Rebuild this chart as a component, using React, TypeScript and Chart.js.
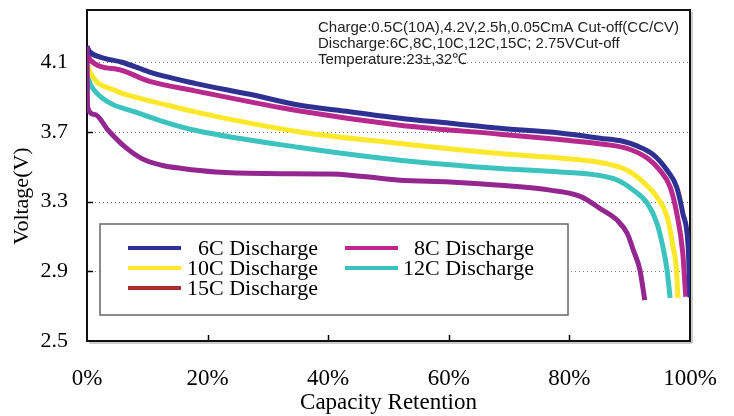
import React, { useEffect, useRef } from "react";
import { Chart, registerables } from "chart.js";

Chart.register(...registerables);

const SERIES_NAMES = ["6C Discharge", "8C Discharge", "10C Discharge", "12C Discharge", "15C Discharge"];
const LINE_COLORS = ["#2E3192", "#B8298D", "#FCE82A", "#3CC3BE", "#93278F"];
const LEGEND_COLORS = ["#2E3192", "#B8298D", "#FCE82A", "#3CC3BE", "#A8302F"];

const C6_X = [0, 0.5, 2.2, 5.8, 10.4, 17.9, 27.0, 35.3, 43.6, 51.9, 60.2, 68.5, 78.4, 85.1, 89.0, 91.2, 93.9, 96.2, 97.8, 98.8, 99.7, 99.9, 100];
const C6_V = [4.19, 4.159, 4.13, 4.10, 4.044, 3.979, 3.916, 3.853, 3.816, 3.779, 3.75, 3.721, 3.694, 3.664, 3.645, 3.62, 3.57, 3.48, 3.383, 3.234, 3.039, 2.85, 2.75];

const C8_X = [0, 0.5, 5.0, 10.4, 17.9, 35.3, 51.9, 68.5, 78.4, 86.0, 89.6, 92.9, 95.0, 96.7, 97.8, 98.8, 99.3];
const C8_V = [4.19, 4.115, 4.06, 3.99, 3.936, 3.82, 3.739, 3.687, 3.656, 3.628, 3.605, 3.55, 3.48, 3.385, 3.234, 3.005, 2.754];

const C10_X = [0, 0.5, 4.6, 9.0, 13.4, 17.9, 35.3, 51.9, 68.5, 78.4, 85.1, 89.6, 92.2, 94.5, 96.2, 97.2, 97.8, 98.0];
const C10_V = [4.10, 4.044, 3.939, 3.891, 3.853, 3.815, 3.70, 3.634, 3.576, 3.55, 3.525, 3.48, 3.413, 3.327, 3.213, 3.041, 2.89, 2.747];

const C12_X = [0, 0.8, 3.5, 8.0, 12.9, 17.9, 35.3, 51.9, 68.5, 78.4, 84.0, 88.0, 90.6, 92.9, 94.5, 95.5, 96.2, 96.7];
const C12_V = [4.02, 3.958, 3.872, 3.815, 3.757, 3.71, 3.611, 3.538, 3.49, 3.47, 3.455, 3.423, 3.366, 3.291, 3.177, 3.041, 2.907, 2.747];

const C15_X = [0, 0.1, 1.3, 3.5, 6.3, 9.1, 12.4, 15.8, 21.4, 29.3, 40.1, 43.6, 51.9, 60.2, 68.5, 76.8, 81.8, 85.1, 87.9, 89.6, 90.6, 91.7, 92.5];
const C15_V = [4.19, 3.84, 3.8, 3.71, 3.614, 3.547, 3.509, 3.49, 3.47, 3.461, 3.458, 3.452, 3.423, 3.413, 3.394, 3.366, 3.33, 3.26, 3.194, 3.117, 3.022, 2.907, 2.735];

const SERIES_X = [C6_X, C8_X, C10_X, C12_X, C15_X];
const SERIES_V = [C6_V, C8_V, C10_V, C12_V, C15_V];

const Y_TICKS = [2.5, 2.9, 3.3, 3.7, 4.1];
const X_TICKS = [0, 20, 40, 60, 80, 100];

const X_TITLE = "Capacity Retention";
const Y_TITLE = "Voltage(V)";

const NOTE_LINES = [
  "Charge:0.5C(10A),4.2V,2.5h,0.05CmA Cut-off(CC/CV)",
  "Discharge:6C,8C,10C,12C,15C; 2.75VCut-off",
  "Temperature:23±,32℃",
];

const SERIF = "'Liberation Serif', 'Times New Roman', serif";
const SANS = "'Liberation Sans', Arial, sans-serif";

const decorPlugin = {
  id: "decor",
  beforeDatasetsDraw(chart: any) {
    const { ctx, chartArea: a, scales } = chart;
    const xs = scales.x;
    const ys = scales.y;
    ctx.save();
    // dotted grid lines
    ctx.strokeStyle = "#777";
    ctx.lineWidth = 1;
    ctx.setLineDash([1, 3]);
    Y_TICKS.forEach((v) => {
      if (v === ys.min) return;
      const py = Math.round(ys.getPixelForValue(v)) + 0.5;
      ctx.beginPath();
      ctx.moveTo(a.left, py);
      ctx.lineTo(a.right, py);
      ctx.stroke();
    });
    ctx.setLineDash([]);
    // inward tick marks
    ctx.strokeStyle = "#000";
    ctx.lineWidth = 1.5;
    X_TICKS.forEach((v) => {
      if (v === xs.min || v === xs.max) return;
      const px = Math.round(xs.getPixelForValue(v)) + 0.5;
      ctx.beginPath();
      ctx.moveTo(px, a.bottom);
      ctx.lineTo(px, a.bottom - 6);
      ctx.stroke();
    });
    Y_TICKS.forEach((v) => {
      if (v === ys.min) return;
      const py = Math.round(ys.getPixelForValue(v)) + 0.5;
      ctx.beginPath();
      ctx.moveTo(a.left, py);
      ctx.lineTo(a.left + 6, py);
      ctx.stroke();
    });
    // frame with light shadow
    ctx.strokeStyle = "#9a9a9a";
    ctx.lineWidth = 1;
    ctx.beginPath();
    ctx.moveTo(a.right + 2, a.top + 2);
    ctx.lineTo(a.right + 2, a.bottom + 2);
    ctx.lineTo(a.left + 2, a.bottom + 2);
    ctx.stroke();
    ctx.strokeStyle = "#111";
    ctx.lineWidth = 2;
    ctx.strokeRect(a.left, a.top, a.right - a.left, a.bottom - a.top);
    ctx.restore();
  },
  afterDatasetsDraw(chart: any) {
    const { ctx, chartArea: a } = chart;
    ctx.save();
    // y axis title
    ctx.save();
    ctx.translate(22, a.top + 186);
    ctx.rotate(-Math.PI / 2);
    ctx.font = `22px ${SERIF}`;
    ctx.fillStyle = "#000";
    ctx.textAlign = "center";
    ctx.textBaseline = "middle";
    ctx.fillText(Y_TITLE, 0, 0);
    ctx.restore();
    // note text
    ctx.fillStyle = "#222";
    ctx.font = `15px ${SANS}`;
    ctx.textAlign = "left";
    ctx.textBaseline = "middle";
    NOTE_LINES.forEach((t, i) => {
      ctx.fillText(t, a.left + 231, a.top + 18 + i * 16);
    });
    // legend box
    const bx = a.left + 13;
    const by = a.top + 214;
    const bw = 468;
    const bh = 91;
    ctx.fillStyle = "#fff";
    ctx.fillRect(bx, by, bw, bh);
    ctx.strokeStyle = "#666";
    ctx.lineWidth = 1.5;
    ctx.strokeRect(bx, by, bw, bh);
    ctx.font = `22px ${SERIF}`;
    ctx.fillStyle = "#000";
    ctx.textAlign = "right";
    ctx.textBaseline = "middle";
    const cols = [
      { lx: bx + 28, tx: bx + 218 },
      { lx: bx + 245, tx: bx + 434 },
    ];
    SERIES_NAMES.forEach((name, i) => {
      const c = cols[i % 2];
      const ry = by + 24 + Math.floor(i / 2) * 20;
      ctx.strokeStyle = LEGEND_COLORS[i];
      ctx.lineWidth = 4;
      ctx.beginPath();
      ctx.moveTo(c.lx, ry);
      ctx.lineTo(c.lx + 53, ry);
      ctx.stroke();
      ctx.fillText(name, c.tx, ry + 1);
    });
    ctx.restore();
  },
};

export default function App() {
  const ref = useRef<HTMLCanvasElement | null>(null);

  useEffect(() => {
    if (!ref.current) return;
    const datasets = SERIES_NAMES.map((name, i) => ({
      label: name,
      data: SERIES_X[i].map((x, j) => ({ x, y: SERIES_V[i][j] })),
      borderColor: LINE_COLORS[i],
      backgroundColor: LINE_COLORS[i],
      borderWidth: 5,
      pointRadius: 0,
      fill: false,
      cubicInterpolationMode: "monotone" as const,
      order: i === 4 ? -1 : i,
    }));
    const chart = new Chart(ref.current, {
      type: "line",
      data: { datasets },
      options: {
        animation: false,
        responsive: false,
        layout: { padding: { top: 10, right: 44, left: 0, bottom: 0 } },
        plugins: { legend: { display: false }, tooltip: { enabled: false } },
        scales: {
          x: {
            type: "linear",
            min: 0,
            max: 100,
            grid: { display: false, drawTicks: false },
            border: { display: false },
            afterBuildTicks: (s: any) => {
              s.ticks = X_TICKS.map((value) => ({ value }));
            },
            afterFit: (s: any) => {
              s.height = 75;
              s.paddingLeft = 0;
              s.paddingRight = 0;
            },
            ticks: {
              padding: 24,
              color: "#000",
              font: { family: SERIF, size: 23 },
              maxRotation: 0,
              callback: (v: any) => `${v}%`,
            },
            title: {
              display: true,
              text: X_TITLE,
              color: "#000",
              font: { family: SERIF, size: 23 },
              padding: { top: 0, bottom: -1 },
            },
          },
          y: {
            type: "linear",
            min: 2.5,
            max: 4.4,
            grid: { display: false, drawTicks: false },
            border: { display: false },
            afterBuildTicks: (s: any) => {
              s.ticks = Y_TICKS.map((value) => ({ value }));
            },
            afterFit: (s: any) => {
              s.width = 87;
              s.paddingTop = 0;
              s.paddingBottom = 0;
            },
            ticks: {
              padding: 19,
              color: "#000",
              font: { family: SERIF, size: 22 },
              callback: (v: any) => Number(v).toFixed(1),
            },
            title: { display: false },
          },
        },
      },
      plugins: [decorPlugin],
    });
    return () => chart.destroy();
  }, []);

  return (
    <div style={{ position: "fixed", left: 0, top: 0, width: 734, height: 416, background: "#fff" }}>
      <canvas ref={ref} width={734} height={416} />
    </div>
  );
}
